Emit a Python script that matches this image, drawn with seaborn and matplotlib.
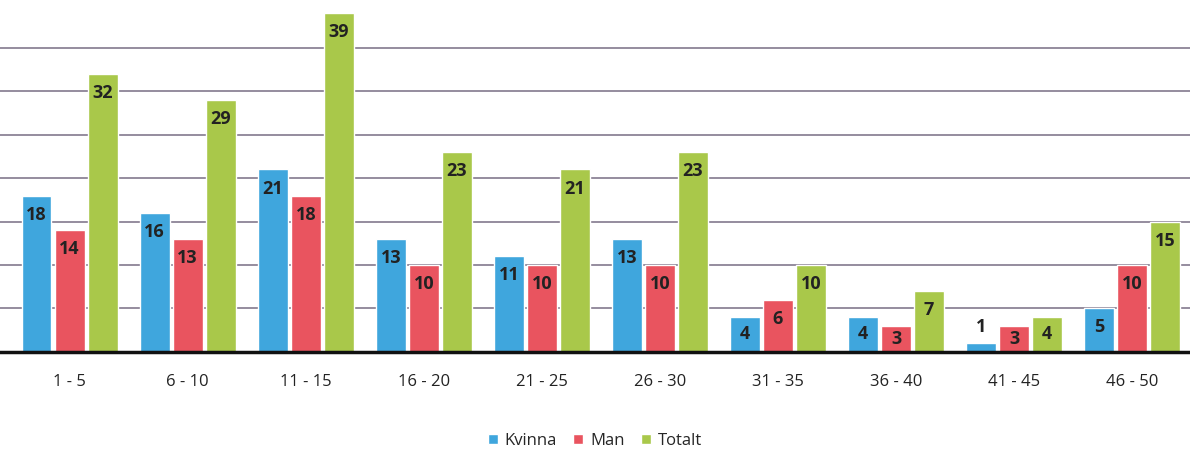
import pandas as pd
import matplotlib
matplotlib.use('Agg')
import matplotlib.pyplot as plt
import seaborn as sns

# Data
kategorier = ['1 - 5', '6 - 10', '11 - 15', '16 - 20', '21 - 25',
              '26 - 30', '31 - 35', '36 - 40', '41 - 45', '46 - 50']
kvinna = [18, 16, 21, 13, 11, 13, 4, 4, 1, 5]
man = [14, 13, 18, 10, 10, 10, 6, 3, 3, 10]
totalt = [32, 29, 39, 23, 21, 23, 10, 7, 4, 15]
serier = ['Kvinna', 'Man', 'Totalt']
farger = ['#3fa6dd', '#e9545f', '#a9c84a']

df = pd.DataFrame({'grupp': kategorier * 3,
                   'serie': ['Kvinna'] * 10 + ['Man'] * 10 + ['Totalt'] * 10,
                   'antal': kvinna + man + totalt})

sns.set_style('white')
plt.rcParams['font.family'] = ['Open Sans', 'DejaVu Sans']

fig = plt.figure(figsize=(11.9, 4.51), dpi=100)
ax = fig.add_axes([0.0, 0.22, 1.0, 0.77])

sns.barplot(data=df, x='grupp', y='antal', hue='serie', hue_order=serier,
            palette=farger, width=0.84, gap=0.1, saturation=1, ax=ax)

# Rutnät var 5:e enhet
for yv in range(5, 40, 5):
    ax.axhline(yv, color='#8c8496', lw=1.3, zorder=0)
ax.set_axisbelow(True)

# Etiketter i toppen av staplarna
for cont in ax.containers:
    for rect in cont:
        h = rect.get_height()
        x = rect.get_x() + rect.get_width() / 2
        if h >= 3:
            ax.text(x, max(h - 2.2, h / 2), f'{h:.0f}', ha='center', va='center',
                    fontsize=13, fontweight='bold', color='#222222')
        else:
            ax.text(x, h + 0.8, f'{h:.0f}', ha='center', va='bottom',
                    fontsize=13, fontweight='bold', color='#222222')

ax.set_ylim(0, 40)
ax.set_xlim(-0.59, 9.49)
ax.set_yticks([])
ax.set_xlabel('')
ax.set_ylabel('')
ax.tick_params(axis='x', length=0, pad=16, labelsize=12, labelcolor='#222222')
for s in ['top', 'right', 'left']:
    ax.spines[s].set_visible(False)
ax.spines['bottom'].set_linewidth(2.5)
ax.spines['bottom'].set_color('#111111')

ax.legend(loc='upper center', bbox_to_anchor=(0.5, -0.19), ncol=3, frameon=False,
          handlelength=0.6, handleheight=0.6, handletextpad=0.4, columnspacing=1.0,
          fontsize=12)

fig.savefig('out.png', dpi=100)
